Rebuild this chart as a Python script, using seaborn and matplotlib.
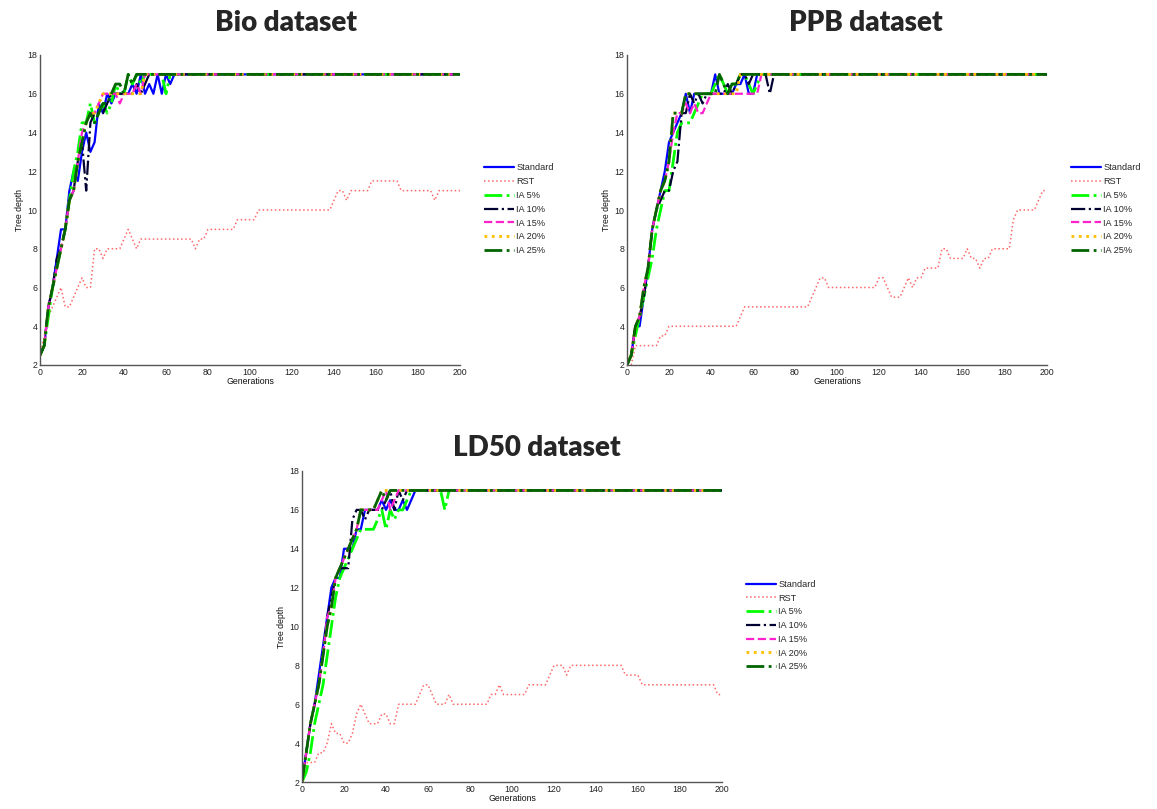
import numpy as np
import pandas as pd
import matplotlib
matplotlib.use("Agg")
import matplotlib.pyplot as plt
import seaborn as sns

# ---------------------------------------------------------------------------
# Average best-tree depth per generation (sampled every 2 generations, 0..200)
# ---------------------------------------------------------------------------
generations = np.arange(0, 201, 2)
series_names = ["Standard", "RST", "IA 5%", "IA 10%", "IA 15%", "IA 20%", "IA 25%"]
max_depth = 17

# Bio dataset
bio_standard = [2.5, 3, 5, 6, 7.5, 9, 9, 11, 12, 11.5,
                13, 14, 13, 13.5, 15.5, 15, 16, 15.5, 16, 16,
                16, 16, 16.5, 16, 17, 16, 16.5, 16, 17, 16,
                17, 16.5, 17]
bio_rst = [2.5, 3.5, 4.5, 5, 5.5, 6, 5, 5, 5.5, 6,
           6.5, 6, 6, 8, 8, 7.5, 8, 8, 8, 8,
           8.5, 9, 8.5, 8, 8.5, 8.5, 8.5, 8.5, 8.5, 8.5,
           8.5, 8.5, 8.5, 8.5, 8.5, 8.5, 8.5, 8, 8.5, 8.5,
           9, 9, 9, 9, 9, 9, 9, 9.5, 9.5, 9.5,
           9.5, 9.5, 10, 10, 10, 10, 10, 10, 10, 10,
           10, 10, 10, 10, 10, 10, 10, 10, 10, 10,
           10.5, 11, 11, 10.5, 11, 11, 11, 11, 11, 11.5,
           11.5, 11.5, 11.5, 11.5, 11.5, 11.5, 11, 11, 11, 11,
           11, 11, 11, 11, 10.5, 11, 11, 11, 11, 11,
           11]
bio_ia5 = [2.5, 3, 4.5, 6, 7, 8, 9, 10.5, 12, 13,
           14.5, 14.5, 15.5, 14.5, 15, 15.5, 15, 15.5, 16.5, 16,
           16, 17, 16.5, 17, 16.5, 17, 17, 17, 17, 17,
           16, 17]
bio_ia10 = [2.5, 3, 5, 6, 7.5, 8, 9, 10.5, 11, 12.5,
            13.5, 11, 14.5, 15, 15, 15, 15.5, 16, 16, 16,
            16, 16, 16, 16.5, 16, 16.5, 17]
bio_ia15 = [2.5, 3, 5, 6, 7, 8, 9, 10.5, 11, 12.5,
            14, 14.5, 15, 15, 15.5, 16, 16, 16, 16, 15.5,
            16, 16, 16, 16.5, 16, 17]
bio_ia20 = [2.5, 3, 5, 6, 7, 8, 9, 10.5, 11, 12.5,
            13.5, 14.5, 15, 15, 15.5, 16, 16, 16, 16, 16,
            16, 16, 16, 16, 16, 17]
bio_ia25 = [2.5, 3, 5, 6, 7, 8, 9, 10.5, 11, 12.5,
            13.5, 14.5, 15, 14.5, 15, 15.5, 15.5, 16, 16.5, 16.5,
            16, 17, 16.5, 17]

# PPB dataset
ppb_standard = [2, 2.5, 4, 4, 5.5, 7, 9, 10, 11, 12,
                13.5, 14, 14.5, 15, 16, 15, 16, 16, 16, 16,
                16, 17, 16, 16, 16, 16, 16.5, 16.5, 17, 16,
                16, 17]
ppb_rst = [2, 2, 3, 3, 3, 3, 3, 3, 3.5, 3.5,
           4, 4, 4, 4, 4, 4, 4, 4, 4, 4,
           4, 4, 4, 4, 4, 4, 4, 4.5, 5, 5,
           5, 5, 5, 5, 5, 5, 5, 5, 5, 5,
           5, 5, 5, 5, 5.5, 6, 6.5, 6.5, 6, 6,
           6, 6, 6, 6, 6, 6, 6, 6, 6, 6,
           6.5, 6.5, 6, 5.5, 5.5, 5.5, 6, 6.5, 6, 6.5,
           6.5, 7, 7, 7, 7, 8, 8, 7.5, 7.5, 7.5,
           7.5, 8, 7.5, 7.5, 7, 7.5, 7.5, 8, 8, 8,
           8, 8, 9.5, 10, 10, 10, 10, 10, 10.5, 11,
           11]
ppb_ia5 = [2, 2.5, 3.5, 4.5, 5.5, 6.5, 7.5, 9, 10, 11,
           11, 12.5, 14, 14.5, 14.5, 14.5, 15, 15.5, 16, 16,
           16, 16.5, 17, 16.5, 16, 16.5, 16.5, 17, 17, 16.5,
           16, 16.5, 17]
ppb_ia10 = [2, 2.5, 4, 4.5, 5.5, 7, 9, 10, 10.5, 11,
            11, 12, 12.5, 15, 15, 16, 15.5, 16, 15.5, 16,
            16, 16, 16, 16, 16.5, 16, 16.5, 17, 17, 16.5,
            17, 17, 17, 17, 16, 17]
ppb_ia15 = [2, 2.5, 4, 4.5, 6, 7, 9, 10, 11, 11.5,
            12.5, 14, 15, 15, 15.5, 15, 15.5, 15, 15, 15.5,
            16, 16, 16, 16, 16, 16, 16, 16, 16, 16,
            16, 16, 17]
ppb_ia20 = [2, 2.5, 4, 4.5, 6, 7, 9, 10, 11, 11.5,
            12.5, 15, 15, 15, 16, 16, 16, 16, 16, 16,
            16, 16, 16, 16, 16, 16, 16, 17]
ppb_ia25 = [2, 2.5, 4, 4.5, 6, 7, 9, 10, 11, 11.5,
            12.5, 15, 15, 15, 16, 16, 16, 16, 16, 16,
            16, 16, 17, 16.5, 16, 16.5, 16.5, 17]

# LD50 dataset
ld50_standard = [2, 3.5, 5, 6, 7.5, 9, 10.5, 12, 12.5, 12.5,
                 14, 14, 14, 15, 15, 16, 16, 16, 16, 16.5,
                 16, 16.5, 16, 16, 16.5, 16, 16.5, 17]
ld50_rst = [2, 3, 3, 3, 3.5, 3.5, 4, 5, 4.5, 4.5,
            4, 4, 4.5, 5.5, 6, 5.5, 5, 5, 5, 5.5,
            5.5, 5, 5, 6, 6, 6, 6, 6, 6.5, 7,
            7, 6.5, 6, 6, 6, 6.5, 6, 6, 6, 6,
            6, 6, 6, 6, 6, 6.5, 6.5, 7, 6.5, 6.5,
            6.5, 6.5, 6.5, 6.5, 7, 7, 7, 7, 7, 7.5,
            8, 8, 8, 7.5, 8, 8, 8, 8, 8, 8,
            8, 8, 8, 8, 8, 8, 8, 7.5, 7.5, 7.5,
            7.5, 7, 7, 7, 7, 7, 7, 7, 7, 7,
            7, 7, 7, 7, 7, 7, 7, 7, 7, 6.5,
            6.5]
ld50_ia5 = [2, 2.5, 3.5, 5, 6, 7, 8.5, 10, 11.5, 12.5,
            13, 13.5, 14, 14.5, 15, 15, 15, 15, 15.5, 16,
            15, 16, 15.5, 16, 16, 16.5, 17, 17, 17, 17,
            17, 17, 17, 17, 16, 17]
ld50_ia10 = [2, 3.5, 5, 6, 7, 8.5, 10.5, 11.5, 12.5, 13,
             13, 13, 15.5, 16, 16, 15.5, 16, 16, 16, 16,
             16.5, 17, 16, 17, 16.5, 17]
ld50_ia15 = [2, 3.5, 5, 6, 7, 8.5, 10.5, 11, 12.5, 13,
             13.5, 14, 14.5, 15, 16, 16, 16, 16, 16, 16.5,
             17, 16, 16.5, 17]
ld50_ia20 = [2, 3.5, 5, 6, 7, 8.5, 10, 11, 12.5, 13,
             13.5, 14, 14.5, 15, 16, 16, 16, 16, 16.5, 17]
ld50_ia25 = [2, 3.5, 5, 6, 7, 8.5, 10, 11, 12.5, 13,
             13.5, 14, 14.5, 15, 16, 16, 16, 16, 16.5, 17,
             16.5, 17]

datasets = {
    "Bio dataset": [bio_standard, bio_rst, bio_ia5, bio_ia10, bio_ia15, bio_ia20, bio_ia25],
    "PPB dataset": [ppb_standard, ppb_rst, ppb_ia5, ppb_ia10, ppb_ia15, ppb_ia20, ppb_ia25],
    "LD50 dataset": [ld50_standard, ld50_rst, ld50_ia5, ld50_ia10, ld50_ia15, ld50_ia20, ld50_ia25],
}

# Once a run hits the depth limit it stays there for the remaining generations
def full_run(values):
    return list(values) + [max_depth] * (len(generations) - len(values))

# Line appearance per method
line_styles = {
    "Standard": dict(color="#0000ff", linestyle="-", linewidth=1.6),
    "RST": dict(color="#ff4d4d", linestyle=":", linewidth=1.1, alpha=0.85),
    "IA 5%": dict(color="#00ff00", linestyle="-.", linewidth=2.0),
    "IA 10%": dict(color="#000033", linestyle="-.", linewidth=1.6),
    "IA 15%": dict(color="#ff22cc", linestyle="--", linewidth=1.6),
    "IA 20%": dict(color="#ffbf00", linestyle=":", linewidth=2.0),
    "IA 25%": dict(color="#006400", linestyle="-.", linewidth=2.0),
}

sns.set_style("white")
plt.rcParams["font.family"] = ["Liberation Sans", "DejaVu Sans"]

W, H = 1157, 809
fig = plt.figure(figsize=(W / 100, H / 100), dpi=100)

# panel placement in pixels: (left, top, width, height), title centre (x, y)
panels = {
    "Bio dataset": ((40, 55, 420, 310), (286, 23)),
    "PPB dataset": ((627, 55, 420, 310), (866, 23)),
    "LD50 dataset": ((302, 471, 420, 311), (537, 448)),
}

for title, series in datasets.items():
    (left, top, width, height), (tx, ty) = panels[title]
    ax = fig.add_axes([left / W, 1 - (top + height) / H, width / W, height / H])
    frame = pd.DataFrame({"Generations": np.tile(generations, len(series_names)),
                          "Tree depth": np.concatenate([full_run(s) for s in series]),
                          "Method": np.repeat(series_names, len(generations))})
    for name in series_names:
        sub = frame[frame["Method"] == name]
        sns.lineplot(data=sub, x="Generations", y="Tree depth", ax=ax,
                     label=name, **line_styles[name])

    ax.set_xlim(0, 200)
    ax.set_ylim(2, 18)
    ax.set_xticks(np.arange(0, 201, 20))
    ax.set_yticks(np.arange(2, 19, 2))
    ax.tick_params(direction="in", length=3, width=0.8, labelsize=6.3,
                   colors="#222222", pad=2)
    ax.set_xlabel("Generations", fontsize=6.3, labelpad=0, color="#111111")
    ax.set_ylabel("Tree depth", fontsize=6.3, labelpad=2, color="#111111")
    for side in ("top", "right"):
        ax.spines[side].set_visible(False)
    for side in ("left", "bottom"):
        ax.spines[side].set_color("#555555")
        ax.spines[side].set_linewidth(1.0)

    ax.legend(loc="upper left", bbox_to_anchor=(1.058, 0.65), frameon=False,
              fontsize=6.6, handlelength=3.2, handletextpad=0.3,
              labelspacing=0.52, borderaxespad=0, borderpad=0)

    fig.text(tx / W, 1 - ty / H, title, ha="center", va="center",
             fontsize=20, fontweight="heavy", family=["Lato", "DejaVu Sans"])

fig.savefig("out.png", dpi=100)
